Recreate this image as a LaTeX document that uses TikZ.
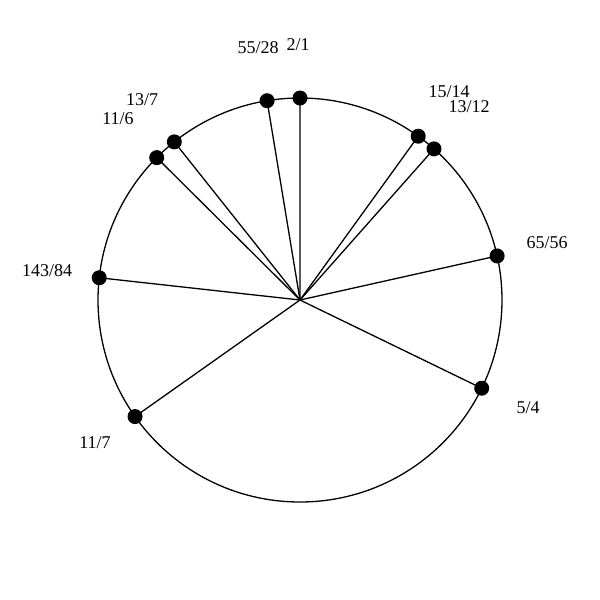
\documentclass[tikz,border=0pt]{standalone}
\usepackage{fontspec}
\setmainfont{Liberation Serif}
\usetikzlibrary{calc}
\begin{document}
\begin{tikzpicture}[x=1pt,y=-1pt,
  spoke/.style={line width=1.3pt},
  dot/.style={circle,fill=black,inner sep=0pt,minimum size=15pt},
  lbl/.style={font=\fontsize{18}{21}\selectfont,inner sep=0pt}]
\useasboundingbox (0,0) rectangle (600,600);
\coordinate (c) at (300,300);
\draw[spoke] (c) circle[radius=202];
\foreach \n/\p/\q/\lx/\ly in {a/2/1/298/45, b/55/28/258/48, c1/13/7/142/100, d/11/6/118/119, e/143/84/47/271, f/11/7/95/443, g/5/4/528/408, h/65/56/547/243, i/15/14/449/92, j/13/12/469/107}{
  \pgfmathsetmacro{\ang}{360*ln(\p/\q)/ln(2)-90}
  \node[dot] (\n) at ($(c)+(\ang:202)$) {};
  \draw[spoke] (c) -- (\n.center);
  \node[lbl] (l\n) at (\lx,\ly) {\p/\q};
}
\end{tikzpicture}
\end{document}
